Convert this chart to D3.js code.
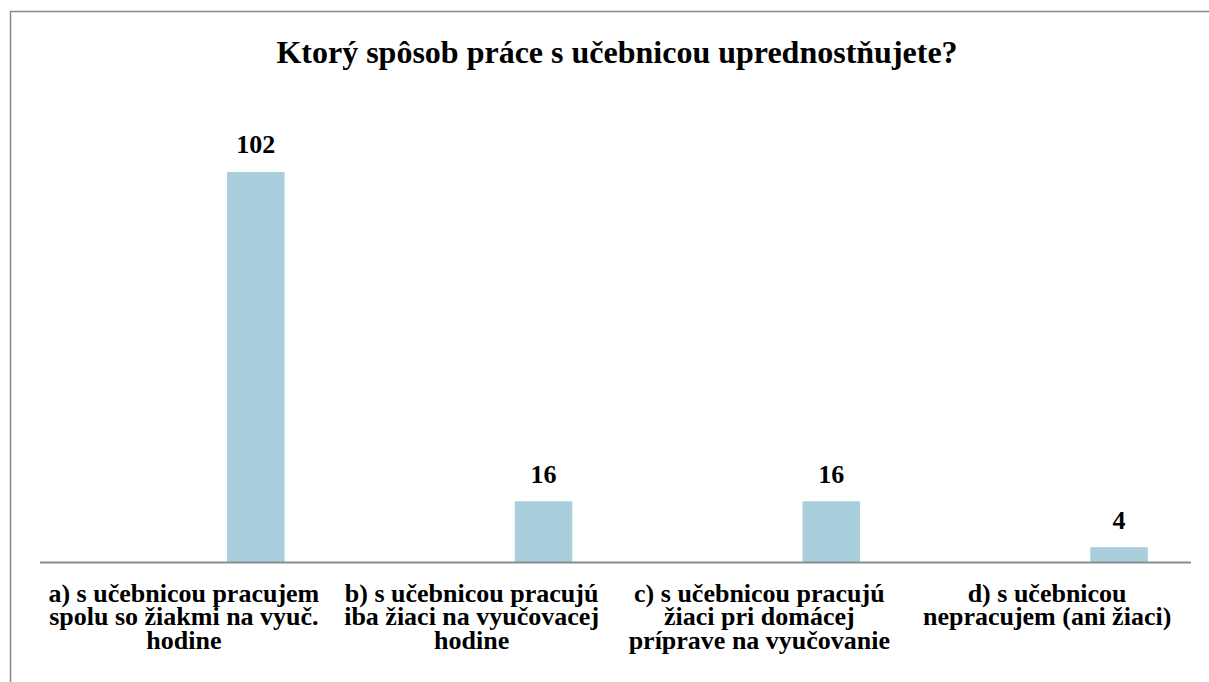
<!DOCTYPE html>
<html lang="sk">
  <head>
    <meta charset="UTF-8" />
    <title>Ktorý spôsob práce s učebnicou uprednostňujete?</title>
    <style>
      body { margin: 0; background: #fff; }
      text { font-family: "Liberation Serif", "Times New Roman", serif; font-weight: bold; fill: #000; }
    </style>
  </head>
  <body>
    <script src="https://cdn.jsdelivr.net/npm/d3@7"></script>
    <script>
      const title = "Ktorý spôsob práce s učebnicou uprednostňujete?";
      const categories = [
        "a) s učebnicou pracujem|spolu so žiakmi na vyuč.|hodine",
        "b) s učebnicou pracujú|iba žiaci na vyučovacej|hodine",
        "c) s učebnicou pracujú|žiaci pri domácej|príprave na vyučovanie",
        "d) s učebnicou|nepracujem (ani žiaci)"
      ];
      const values = [102, 16, 16, 4];

      const width = 1209, height = 682;
      const svg = d3.select("body").append("svg")
        .attr("width", width)
        .attr("height", height);

      // chart frame (cut off at right and bottom)
      svg.append("rect")
        .attr("x", 10.5).attr("y", 11.5)
        .attr("width", 1210).attr("height", 700)
        .attr("fill", "none")
        .attr("stroke", "#898989")
        .attr("stroke-width", 1.5);

      svg.append("text")
        .attr("x", 617).attr("y", 63)
        .attr("text-anchor", "middle")
        .style("font-size", "32px")
        .text(title);

      const x = d3.scaleBand().domain(categories).range([40, 1191]);
      const y = d3.scaleLinear().domain([0, 120]).range([562.5, 103]);
      const bw = x.bandwidth();
      const barW = bw * 0.2;
      const barX = d => x(d) + bw * 0.75 - barW / 2;

      svg.selectAll(".bar")
        .data(values)
        .enter().append("rect")
        .attr("class", "bar")
        .attr("x", (d, i) => barX(categories[i]))
        .attr("y", d => y(d))
        .attr("width", barW)
        .attr("height", d => y(0) - y(d))
        .attr("fill", "#a9cfdc");

      svg.selectAll(".val")
        .data(values)
        .enter().append("text")
        .attr("class", "val")
        .attr("x", (d, i) => barX(categories[i]) + barW / 2)
        .attr("y", d => y(d) - 18.5)
        .attr("text-anchor", "middle")
        .style("font-size", "26px")
        .text(d => d);

      svg.append("line")
        .attr("x1", 40).attr("x2", 1191)
        .attr("y1", y(0)).attr("y2", y(0))
        .attr("stroke", "#8c8c8c")
        .attr("stroke-width", 2);

      const labels = svg.selectAll(".cat")
        .data(categories)
        .enter().append("text")
        .attr("class", "cat")
        .attr("text-anchor", "middle")
        .style("font-size", "26px");

      labels.selectAll("tspan")
        .data(d => d.split("|").map(s => ({ s, c: d })))
        .enter().append("tspan")
        .attr("x", d => x(d.c) + bw / 2)
        .attr("y", (d, i) => 602 + i * 23.3)
        .text(d => d.s);
    </script>
  </body>
</html>
